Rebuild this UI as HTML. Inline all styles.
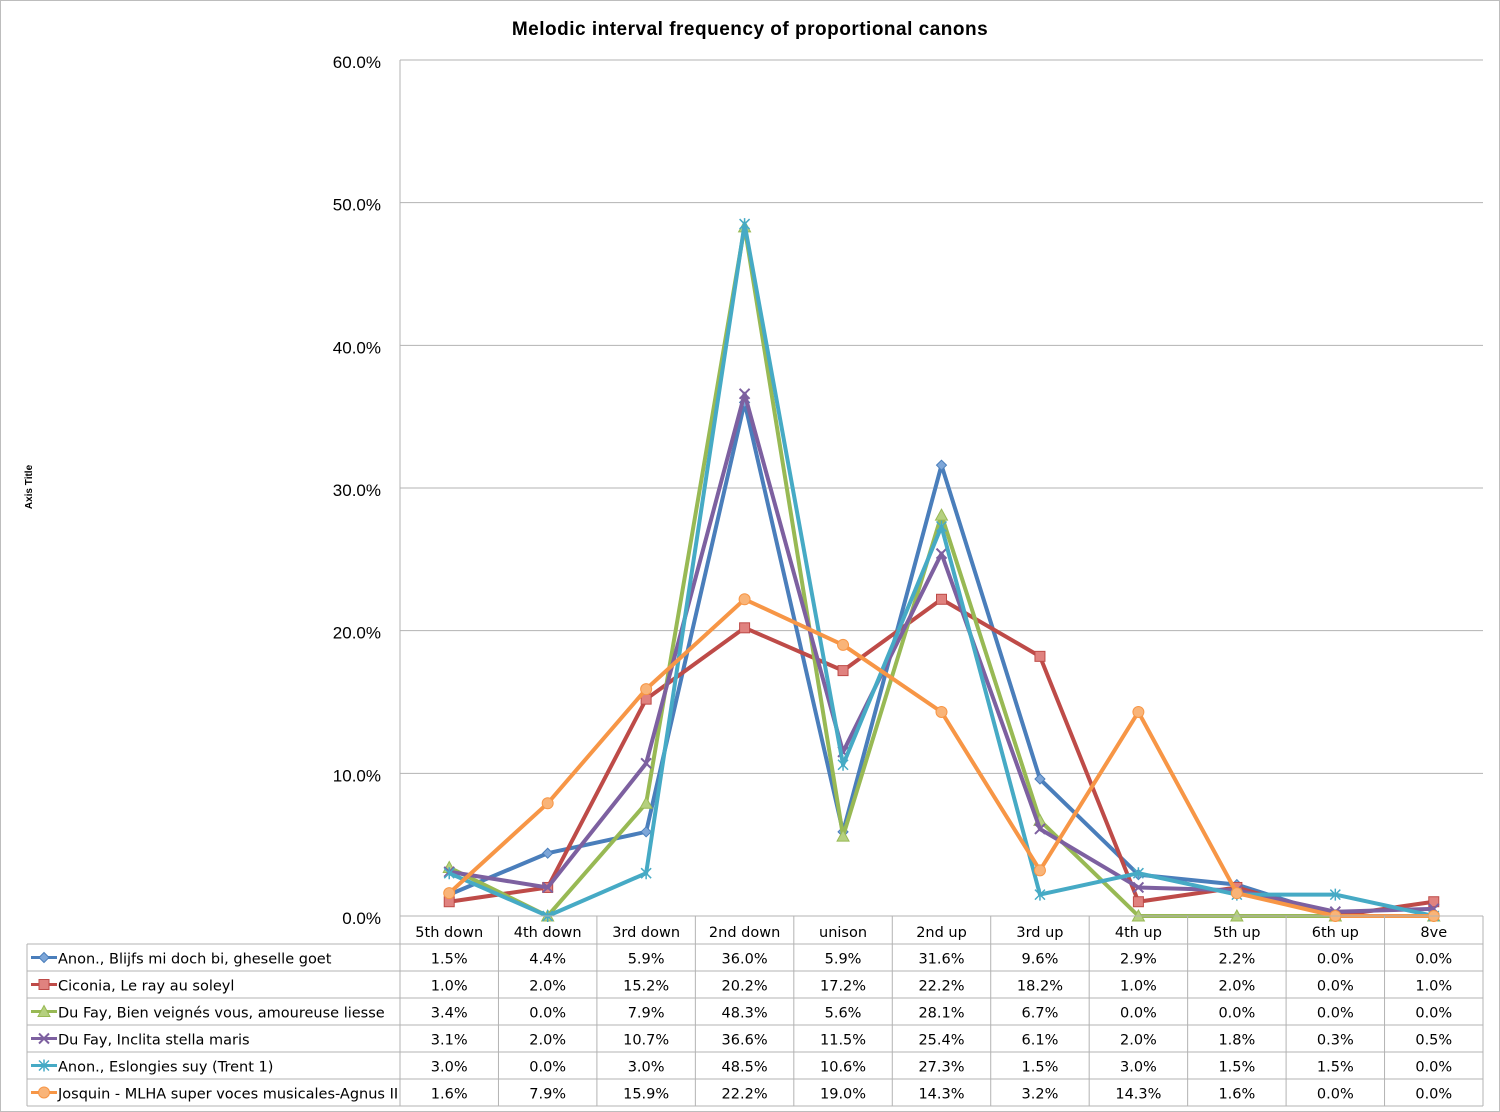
<!DOCTYPE html>
<html><head><meta charset="utf-8"><style>
html,body{margin:0;padding:0;background:#fff}
svg{display:block;font-family:"Liberation Sans",sans-serif}
</style></head><body>
<svg id="chart" width="1500" height="1112" xmlns="http://www.w3.org/2000/svg">
<rect x="0.5" y="0.5" width="1499" height="1111" fill="#fff" stroke="#bdbdbd"/>
<text x="750" y="35" text-anchor="middle" font-size="19" font-weight="bold" letter-spacing="0.5">Melodic interval frequency of proportional canons</text>
<text transform="translate(32,487) rotate(-90)" text-anchor="middle" font-size="10" font-weight="bold">Axis Title</text>
<g id="grid"></g><g id="series"></g><g id="table"></g>
</svg>
<script>
const categories=["5th down","4th down","3rd down","2nd down","unison","2nd up","3rd up","4th up","5th up","6th up","8ve"];
const seriesNames=["Anon., Blijfs mi doch bi, gheselle goet","Ciconia, Le ray au soleyl","Du Fay, Bien veignés vous, amoureuse liesse","Du Fay, Inclita stella maris","Anon., Eslongies suy (Trent 1)","Josquin - MLHA super voces musicales-Agnus II"];
const s1=[1.5,4.4,5.9,36.0,5.9,31.6,9.6,2.9,2.2,0.0,0.0];
const s2=[1.0,2.0,15.2,20.2,17.2,22.2,18.2,1.0,2.0,0.0,1.0];
const s3=[3.4,0.0,7.9,48.3,5.6,28.1,6.7,0.0,0.0,0.0,0.0];
const s4=[3.1,2.0,10.7,36.6,11.5,25.4,6.1,2.0,1.8,0.3,0.5];
const s5=[3.0,0.0,3.0,48.5,10.6,27.3,1.5,3.0,1.5,1.5,0.0];
const s6=[1.6,7.9,15.9,22.2,19.0,14.3,3.2,14.3,1.6,0.0,0.0];
const yTicks=[0,10,20,30,40,50,60];
const allSeries=[s1,s2,s3,s4,s5,s6];
const colors=["#4a7ebb","#be4b48","#98b954","#7d60a0","#46aac5","#f79646"];
const markers=["diamond","square","triangle","x","star","circle"];
const NS="http://www.w3.org/2000/svg";
const TF='"DejaVu Sans",sans-serif';
const L=400,R=1483,T=60,B=916;
const cw=(R-L)/categories.length;
const xS=i=>L+cw*(i+0.5);
const yS=v=>B-(v/60)*(B-T);
function mk(tag,at,parent){const e=document.createElementNS(NS,tag);for(const k in at)e.setAttribute(k,at[k]);parent.appendChild(e);return e;}
const grid=document.getElementById('grid'),ser=document.getElementById('series'),tab=document.getElementById('table');
yTicks.forEach(t=>{const y=yS(t);
 const ln=mk('line',{x1:L,x2:R,y1:y,y2:y,stroke:'#b3b3b3','stroke-width':1},grid);
 
 
 const tx=mk('text',{x:381,y:y+8,'text-anchor':'end','font-size':17},grid);tx.textContent=t.toFixed(1)+'%';
 
 
});
mk('line',{x1:L,x2:L,y1:T,y2:B,stroke:'#b3b3b3'},grid);
const rowH=27,top0=916,tabL=27;
const rows=[top0,top0+28];for(let i=1;i<=6;i++)rows.push(top0+28+rowH*i);
rows.forEach((y,i)=>{mk('line',{x1:i==0?L:tabL,x2:R,y1:y,y2:y,stroke:'#b3b3b3'},tab);});
mk('line',{x1:tabL,x2:tabL,y1:top0+28,y2:rows[7],stroke:'#b3b3b3'},tab);
for(let i=0;i<=categories.length;i++){const x=L+cw*i;mk('line',{x1:x,x2:x,y1:top0,y2:rows[7],stroke:'#b3b3b3'},tab);}
categories.forEach((c,i)=>{const t=mk('text',{x:xS(i),y:top0+21,'text-anchor':'middle','font-size':14.5,'font-family':TF},tab);t.textContent=c;
 
 });
function marker(type,x,y,col,p){
 let e;
 if(type=='diamond')e=mk('polygon',{points:`${x},${y-5} ${x+5},${y} ${x},${y+5} ${x-5},${y}`,fill:'#7da6d8',stroke:col},p);
 else if(type=='square')e=mk('rect',{x:x-5,y:y-5,width:10,height:10,fill:'#e0827f',stroke:col},p);
 else if(type=='triangle')e=mk('polygon',{points:`${x},${y-6} ${x+6},${y+5} ${x-6},${y+5}`,fill:'#b5d07f',stroke:col},p);
 else if(type=='x'){e=mk('path',{d:`M${x-5},${y-5}L${x+5},${y+5}M${x-5},${y+5}L${x+5},${y-5}`,stroke:col,'stroke-width':2},p);}
 else if(type=='star'){e=mk('path',{d:`M${x-5},${y-5}L${x+5},${y+5}M${x-5},${y+5}L${x+5},${y-5}M${x},${y-6}L${x},${y+6}`,stroke:col,'stroke-width':1.5},p);}
 else e=mk('circle',{cx:x,cy:y,r:5.5,fill:'#f9b478',stroke:col},p);
 return e;
}
allSeries.forEach((s,k)=>{
 const g=mk('g',{},ser);
 
 
 const pts=s.map((v,i)=>xS(i)+','+yS(v)).join(' ');
 mk('polyline',{points:pts,fill:'none',stroke:colors[k],'stroke-width':4,'stroke-linejoin':'round'},g);
 s.forEach((v,i)=>{const m=marker(markers[k],xS(i),yS(v),colors[k],g);
  
  });
 const ry=rows[k+1]+rowH/2;
 const lg=mk('g',{},tab);
 
 
 mk('line',{x1:31,x2:57,y1:ry,y2:ry,stroke:colors[k],'stroke-width':3},lg);
 marker(markers[k],44,ry,colors[k],lg);
 const nt=mk('text',{x:58,y:ry+6,'font-size':14.5,'font-family':TF},lg);nt.textContent=seriesNames[k];
 s.forEach((v,i)=>{const t=mk('text',{x:xS(i),y:ry+6,'text-anchor':'middle','font-size':14.5,'font-family':TF},tab);t.textContent=v.toFixed(1)+'%';
  
  });
});
</script>
</body></html>
